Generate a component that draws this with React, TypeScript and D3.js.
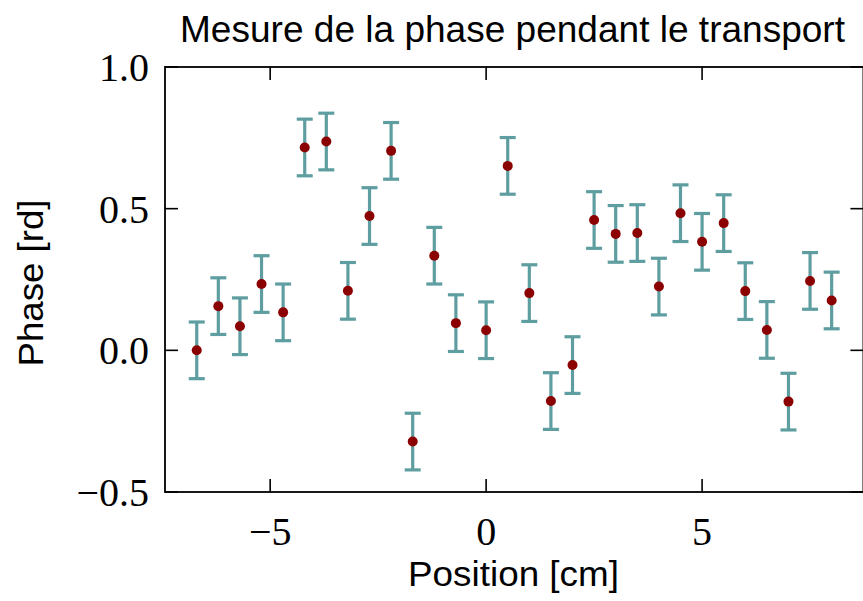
import React from "react";
import * as d3 from "d3";

const positions = [-6.7, -6.2, -5.7, -5.2, -4.7, -4.2, -3.7, -3.2, -2.7, -2.2, -1.7, -1.2, -0.7, 0, 0.5, 1, 1.5, 2, 2.5, 3, 3.5, 4, 4.5, 5, 5.5, 6, 6.5, 7, 7.5, 8];
const phases = [0.0, 0.156, 0.085, 0.234, 0.134, 0.716, 0.737, 0.21, 0.474, 0.704, -0.322, 0.334, 0.096, 0.071, 0.651, 0.202, -0.179, -0.052, 0.46, 0.411, 0.414, 0.225, 0.484, 0.383, 0.449, 0.209, 0.072, -0.181, 0.245, 0.176];
const errors = positions.map(() => 0.1);
const xTicks = [-5, 0, 5];
const yTicks = [-0.5, 0, 0.5, 1.0];

const W = 863, H = 601;
const M = { left: 165, right: 863.4, top: 67, bottom: 492 };

export default function App() {
  const xMin = d3.min(positions)!, xMax = d3.max(positions)!;
  const pad = (xMax - xMin) * 0.05;
  const x = d3.scaleLinear().domain([xMin - pad, xMax + pad]).range([M.left, M.right]);
  const y = d3.scaleLinear().domain([-0.5, 1.0]).range([M.bottom, M.top]);
  const fmtY = (v: number) => (v < 0 ? "\u2212" : "") + Math.abs(v).toFixed(1);
  const fmtX = (v: number) => (v < 0 ? "\u2212" : "") + Math.abs(v).toString();
  const tickLen = 13;
  const capW = 8;
  const serif = "'Liberation Serif', 'DejaVu Serif', serif";
  const sans = "'Liberation Sans', 'DejaVu Sans', sans-serif";
  return (
    <svg width={W} height={H} style={{ position: "fixed", left: 0, top: 0, background: "#fff" }}>
      <rect x={0} y={0} width={W} height={H} fill="#fff" />
      {positions.map((p, i) => {
        const cx = x(p);
        const y1 = y(phases[i] + errors[i]);
        const y2 = y(phases[i] - errors[i]);
        return (
          <g key={"e" + i} stroke="#5F9EA0" strokeWidth={3.2}>
            <line x1={cx} x2={cx} y1={y1} y2={y2} />
            <line x1={cx - capW} x2={cx + capW} y1={y1} y2={y1} />
            <line x1={cx - capW} x2={cx + capW} y1={y2} y2={y2} />
          </g>
        );
      })}
      {positions.map((p, i) => (
        <circle key={"p" + i} cx={x(p)} cy={y(phases[i])} r={5} fill="#8B0000" />
      ))}
      <g stroke="#000" strokeWidth={1.6}>
        {xTicks.map((t) => (
          <g key={"xt" + t}>
            <line x1={x(t)} x2={x(t)} y1={M.bottom} y2={M.bottom - tickLen} />
            <line x1={x(t)} x2={x(t)} y1={M.top} y2={M.top + tickLen} />
          </g>
        ))}
        {yTicks.map((t) => (
          <g key={"yt" + t}>
            <line x1={M.left} x2={M.left + tickLen} y1={y(t)} y2={y(t)} />
            <line x1={M.right} x2={M.right - tickLen} y1={y(t)} y2={y(t)} />
          </g>
        ))}
      </g>
      <rect x={M.left} y={M.top} width={M.right - M.left} height={M.bottom - M.top} fill="none" stroke="#000" strokeWidth={1.8} />
      {xTicks.map((t) => (
        <text key={"xl" + t} x={x(t)} y={M.bottom + 53} textAnchor="middle" fontFamily={serif} fontSize={40} fill="#000">
          {fmtX(t)}
        </text>
      ))}
      {yTicks.map((t) => (
        <text key={"yl" + t} x={M.left - 16} y={y(t) + 14} textAnchor="end" fontFamily={serif} fontSize={40} fill="#000">
          {fmtY(t)}
        </text>
      ))}
      <text x={512.5} y={42} textAnchor="middle" fontFamily={sans} fontSize={36} fill="#000" textLength={665} lengthAdjust="spacingAndGlyphs">
        Mesure de la phase pendant le transport
      </text>
      <text x={513.5} y={586} textAnchor="middle" fontFamily={sans} fontSize={35} fill="#000" textLength={211} lengthAdjust="spacingAndGlyphs">
        Position [cm]
      </text>
      <text transform={`translate(43, 283) rotate(-90)`} textAnchor="middle" fontFamily={sans} fontSize={35} fill="#000" textLength={167} lengthAdjust="spacingAndGlyphs">
        Phase [rd]
      </text>
    </svg>
  );
}
